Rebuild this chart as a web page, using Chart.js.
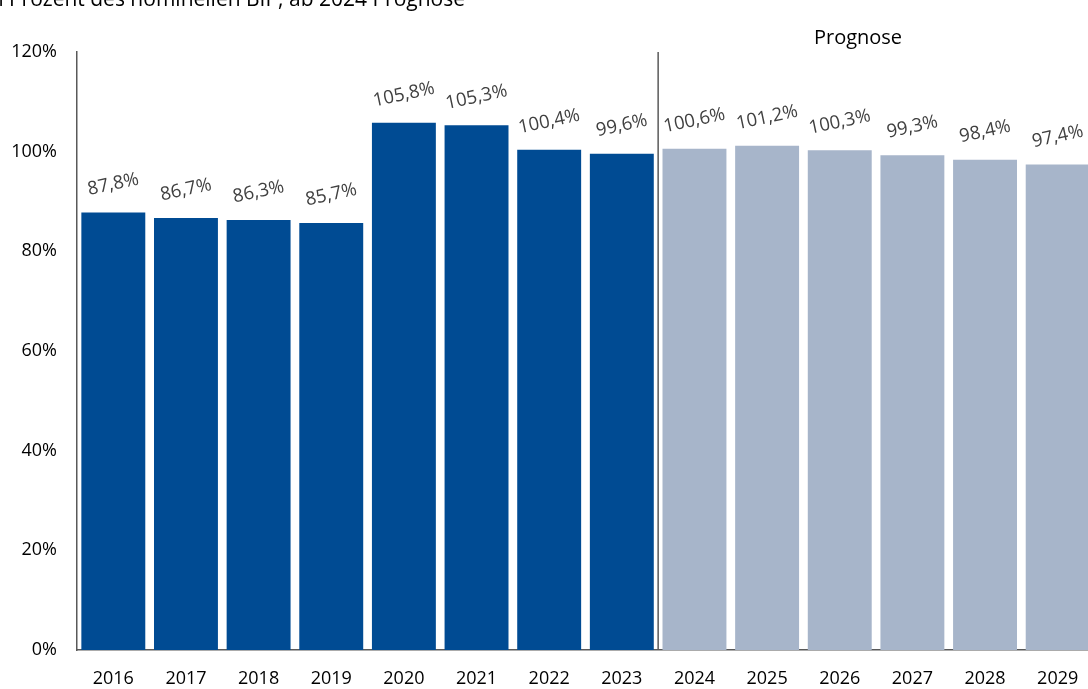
<!DOCTYPE html>
<html>
<head>
<meta charset="utf-8">
<script src="https://cdn.jsdelivr.net/npm/chart.js@4"></script>
<style>
  html, body { margin: 0; padding: 0; background: #fff; overflow: hidden; }
  #wrap { width: 1100px; height: 689px; position: relative; }
</style>
</head>
<body>
<div id="wrap"><canvas id="myChart"></canvas></div>
<script>
const years = ["2016", "2017", "2018", "2019", "2020", "2021", "2022", "2023",
  "2024", "2025", "2026", "2027", "2028", "2029"];
const debtRatio = [87.8, 86.7, 86.3, 85.7, 105.8, 105.3, 100.4, 99.6,
  100.6, 101.2, 100.3, 99.3, 98.4, 97.4];
const firstForecast = "2024";
const yTicks = [0, 20, 40, 60, 80, 100, 120];
const subtitle = "in Prozent des nominellen BIP, ab 2024 Prognose";
const forecastLabel = "Prognose";

const dark = "#004b93";
const light = "#a7b5ca";
const font = "'Open Sans', sans-serif";

const barColors = years.map((y) => (y < firstForecast ? dark : light));

// value labels above bars, slightly tilted
const valueLabels = {
  id: "valueLabels",
  afterDatasetsDraw(chart) {
    const ctx = chart.ctx;
    const meta = chart.getDatasetMeta(0);
    ctx.save();
    ctx.font = "18.5px " + font;
    ctx.fillStyle = "#404040";
    ctx.textAlign = "center";
    ctx.textBaseline = "middle";
    meta.data.forEach((bar, i) => {
      const txt = debtRatio[i].toFixed(1).replace(".", ",") + "%";
      ctx.save();
      ctx.translate(bar.x, bar.y - 28);
      ctx.rotate(-12 * Math.PI / 180);
      ctx.fillText(txt, 0, 0);
      ctx.restore();
    });
    ctx.restore();
  },
};

// divider between actual and forecast, plus captions
const extras = {
  id: "extras",
  afterDraw(chart) {
    const ctx = chart.ctx;
    const xs = chart.scales.x;
    const ys = chart.scales.y;
    const idx = years.indexOf(firstForecast);
    const xLine = xs.getPixelForValue(idx - 0.5);
    ctx.save();
    ctx.strokeStyle = "#595959";
    ctx.lineWidth = 1.5;
    ctx.beginPath();
    ctx.moveTo(xLine, ys.getPixelForValue(120));
    ctx.lineTo(xLine, ys.getPixelForValue(0));
    ctx.stroke();

    ctx.fillStyle = "#000";
    ctx.font = "20px " + font;
    ctx.textAlign = "center";
    ctx.textBaseline = "middle";
    ctx.fillText(forecastLabel, 858, 38);

    ctx.font = "21px " + font;
    ctx.textAlign = "right";
    ctx.textBaseline = "alphabetic";
    ctx.fillText(subtitle, 465, 6);
    ctx.restore();
  },
};

const ctx = document.getElementById("myChart").getContext("2d");

new Chart(ctx, {
  type: "bar",
  data: {
    labels: years,
    datasets: [{
      data: debtRatio,
      backgroundColor: barColors,
      barPercentage: 0.88,
      categoryPercentage: 1.0,
    }],
  },
  options: {
    responsive: true,
    maintainAspectRatio: false,
    animation: false,
    layout: { padding: { top: 52, right: 6, left: 0, bottom: 0 } },
    plugins: {
      legend: { display: false },
      tooltip: { enabled: false },
    },
    scales: {
      x: {
        grid: { display: false },
        border: { display: true, color: "#595959", width: 1.5 },
        ticks: { color: "#000", font: { family: font, size: 18 }, padding: 10 },
        afterFit: (scale) => { scale.height = 39; },
      },
      y: {
        min: 0,
        max: 120,
        afterBuildTicks: (scale) => { scale.ticks = yTicks.map((v) => ({ value: v })); },
        grid: { display: false },
        border: { display: true, color: "#595959", width: 1.5 },
        ticks: {
          color: "#000",
          font: { family: font, size: 18 },
          padding: 12,
          callback: (v) => v + "%",
        },
        afterFit: (scale) => { scale.width = 77; },
      },
    },
  },
  plugins: [valueLabels, extras],
});
</script>
</body>
</html>
